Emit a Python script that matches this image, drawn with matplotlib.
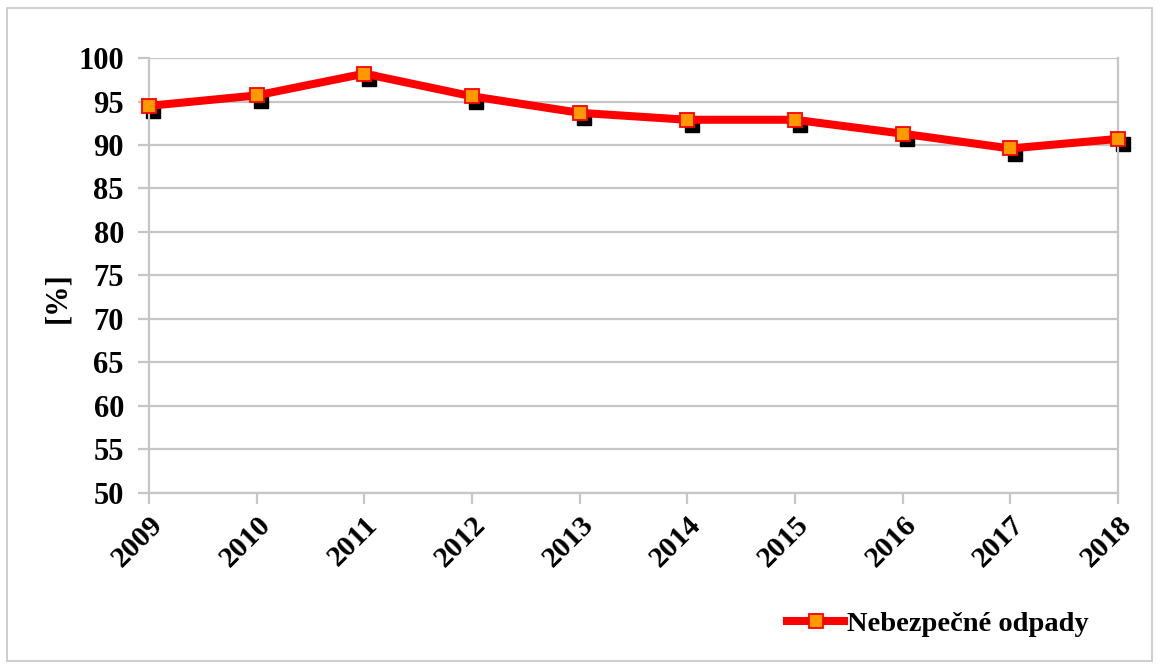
import matplotlib.pyplot as plt
import matplotlib.transforms as mtransforms
from matplotlib.patches import Rectangle

# data
years = [2009, 2010, 2011, 2012, 2013, 2014, 2015, 2016, 2017, 2018]
nebezpecne = [94.5, 95.7, 98.2, 95.6, 93.7, 92.9, 92.9, 91.3, 89.6, 90.7]
y_ticks = [50, 55, 60, 65, 70, 75, 80, 85, 90, 95, 100]

plt.rcParams['font.family'] = ['Liberation Serif', 'DejaVu Serif']
plt.rcParams['font.weight'] = 'bold'

fig = plt.figure(figsize=(11.61, 6.66), dpi=100)
ax = fig.add_axes([0.1283, 0.2598, 0.8347, 0.6531])

grid_col = '#c6c6c6'

# shadow squares under the line
shadow = mtransforms.offset_copy(ax.transData, fig=fig, x=4.5, y=-5.5, units='dots')
ax.plot(years, nebezpecne, linestyle='none', marker='s', markersize=10,
        color='black', transform=shadow, zorder=2, clip_on=False)

ax.plot(years, nebezpecne, color='#ff0000', linewidth=5.8, marker='s',
        markersize=10, markerfacecolor='#ff9900', markeredgecolor='#ff0000',
        markeredgewidth=1.3, label='Nebezpečné odpady', zorder=3, clip_on=False)

ax.set_xlim(2009, 2018)
ax.set_ylim(50, 100)
ax.set_yticks(y_ticks)
ax.set_xticks(years)
ax.set_xticklabels([str(y) for y in years], rotation=45, ha='right',
                   rotation_mode='anchor', fontsize=21.5, fontweight='bold')
ax.set_yticklabels([str(v) for v in y_ticks], fontsize=22, fontweight='bold')
ax.yaxis.grid(True, color=grid_col, linewidth=1.6)
ax.set_axisbelow(True)

ax.spines['top'].set_visible(False)
for s in ['left', 'bottom', 'right']:
    ax.spines[s].set_color(grid_col)
    ax.spines[s].set_linewidth(1.6)
ax.tick_params(axis='both', color=grid_col, width=1.6, length=8)
ax.tick_params(axis='y', pad=10)
ax.tick_params(axis='x', pad=5)

ax.set_ylabel('[%]', fontsize=22, fontweight='bold')
ax.yaxis.set_label_coords(-0.0795, 0.45)

ax.legend(loc='lower left', bbox_to_anchor=(0.647, -0.357), frameon=False,
          prop={'size': 20.5, 'weight': 'bold'}, handlelength=2.0,
          handletextpad=0.1, borderaxespad=0)

# figure border
fig.patches.append(Rectangle((0.006, 0.008), 0.986, 0.98, transform=fig.transFigure,
                             fill=False, edgecolor='#c6c6c6', linewidth=1.2))

fig.savefig('out.png', dpi=100)
